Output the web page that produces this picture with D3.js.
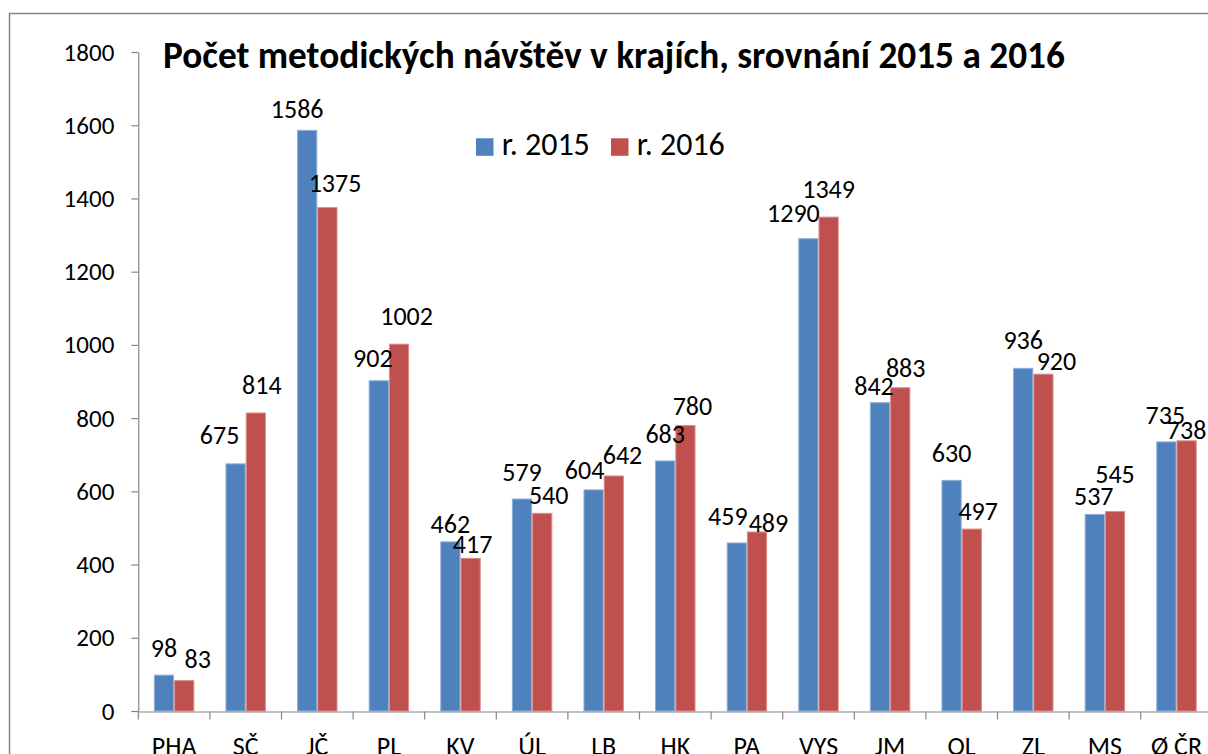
<!DOCTYPE html>
<html>
<head>
<meta charset="utf-8">
<script src="https://cdn.jsdelivr.net/npm/d3@7"></script>
<style>
  html, body { margin: 0; padding: 0; background: #ffffff; }
  svg { display: block; }
  text { font-family: Carlito, Calibri, Lato, "Open Sans", sans-serif; fill: #000; }
</style>
</head>
<body>
<svg id="chart" width="1208" height="754"></svg>
<script>
// ---- data ----
const categories = ["PHA", "SČ", "JČ", "PL", "KV", "ÚL", "LB", "HK", "PA", "VYS", "JM", "OL", "ZL", "MS", "Ø ČR"];
const seriesNames = ["r. 2015", "r. 2016"];
const values2015 = [98, 675, 1586, 902, 462, 579, 604, 683, 459, 1290, 842, 630, 936, 537, 735];
const values2016 = [83, 814, 1375, 1002, 417, 540, 642, 780, 489, 1349, 883, 497, 920, 545, 738];
const yTicks = [0, 200, 400, 600, 800, 1000, 1200, 1400, 1600, 1800];
const title = "Počet metodických návštěv v krajích, srovnání 2015 a 2016";

// label nudges (manual label placement in the original), [dx, dy] in px
const labelNudge2015 = [[0,0],[-16,-2],[-10,6],[-6,4.5],[0,9],[0,0],[-9,7],[0,0],[-9,0],[-15,1],[-6,10],[0,0],[0,-1],[-1,8.5],[-1,0]];
const labelNudge2016 = [[13.5,5.7],[6,-1],[7.6,2],[7.6,-1],[2,12.6],[6.5,8.7],[8.7,6],[7,7.5],[11.4,18],[0,-1],[5.5,7],[6.4,9],[13,14],[0,-10],[0,16.5]];

const colors = ["#4F81BD", "#C0504D"];
const strokeColors = ["#8fb0d8", "#dc8f8d"];

// ---- layout ----
const svg = d3.select("#chart");
svg.append("rect").attr("x", 0).attr("y", 0).attr("width", 1208).attr("height", 754).attr("fill", "#fff");
// outer chart frame
svg.append("rect").attr("x", 9.5).attr("y", 13.5).attr("width", 1400).attr("height", 900)
  .attr("fill", "none").attr("stroke", "#868686").attr("stroke-width", 1.5);

const x = d3.scaleBand().domain(categories).range([138.3, 1212.3]).paddingInner(0).paddingOuter(0);
const x1 = d3.scaleBand().domain(seriesNames).range([0, x.bandwidth()]).paddingInner(0).paddingOuter(0.77);
const y = d3.scaleLinear().domain([0, 1800]).range([711, 52]);

const data = categories.map((c, i) => ({
  cat: c,
  vals: [
    { s: seriesNames[0], v: values2015[i], k: 0, n: labelNudge2015[i] },
    { s: seriesNames[1], v: values2016[i], k: 1, n: labelNudge2016[i] }
  ]
}));

// bars
const groups = svg.append("g").selectAll("g").data(data).join("g")
  .attr("transform", d => `translate(${x(d.cat)},0)`);
groups.selectAll("rect").data(d => d.vals).join("rect")
  .attr("x", d => x1(d.s) + 0.5)
  .attr("width", x1.bandwidth() - 1)
  .attr("y", d => y(d.v))
  .attr("height", d => y(0) - y(d.v))
  .attr("fill", d => colors[d.k])
  .attr("stroke", d => strokeColors[d.k])
  .attr("stroke-width", 1);

// data labels
groups.selectAll("text").data(d => d.vals).join("text")
  .attr("x", d => x1(d.s) + x1.bandwidth() / 2 + d.n[0])
  .attr("y", d => y(d.v) - 18 + d.n[1])
  .attr("text-anchor", "middle")
  .style("font-size", "26px")
  .text(d => d.v);

// y axis
const yAxis = d3.axisLeft(y).tickValues(yTicks).tickFormat(d3.format("d"))
  .tickSize(7).tickPadding(17).tickSizeOuter(0);
const gy = svg.append("g").attr("transform", "translate(138.3,0)").call(yAxis);
gy.select(".domain").attr("stroke", "#868686").attr("stroke-width", 1.2);
gy.selectAll(".tick line").attr("stroke", "#868686").attr("stroke-width", 1.2);
gy.selectAll(".tick text").style("font-size", "25px")
  .style("font-family", "Carlito, Calibri, Lato, sans-serif").attr("fill", "#000");

// x axis
const xAxis = d3.axisBottom(x).tickSize(0).tickSizeOuter(0).tickPadding(0);
const gx = svg.append("g").attr("transform", "translate(0,711.5)").call(xAxis);
gx.select(".domain").attr("stroke", "#868686").attr("stroke-width", 1.2);
gx.selectAll(".tick text").remove();
// category boundary ticks
const boundaries = categories.map(c => x(c)).concat([x.range()[1]]);
gx.selectAll("line.bnd").data(boundaries).join("line").attr("class", "bnd")
  .attr("x1", d => d).attr("x2", d => d).attr("y1", 0).attr("y2", 8)
  .attr("stroke", "#868686").attr("stroke-width", 1.2);
gx.selectAll("text.cat").data(categories).join("text").attr("class", "cat")
  .attr("x", d => x(d) + x.bandwidth() / 2)
  .attr("y", 43.5)
  .attr("text-anchor", "middle")
  .style("font-size", "26px")
  .text(d => d);

// title
const t = svg.append("text").attr("x", 163).attr("y", 68.3)
  .style("font-size", "33px").style("font-weight", "bold").text(title);
const tw = t.node().getComputedTextLength();
const fs = Math.max(28, Math.min(38, 33 * 902 / tw));
t.style("font-size", fs.toFixed(2) + "px");

// legend
const legendX = [476, 611];
const leg = svg.append("g").selectAll("g").data(seriesNames).join("g")
  .attr("transform", (d, i) => `translate(${legendX[i]},138.3)`);
leg.append("rect").attr("width", 17.5).attr("height", 17.5).attr("fill", (d, i) => colors[i]);
leg.append("text").attr("x", 25.7).attr("y", 16.7).style("font-size", "32px").text(d => d);
</script>
</body>
</html>
